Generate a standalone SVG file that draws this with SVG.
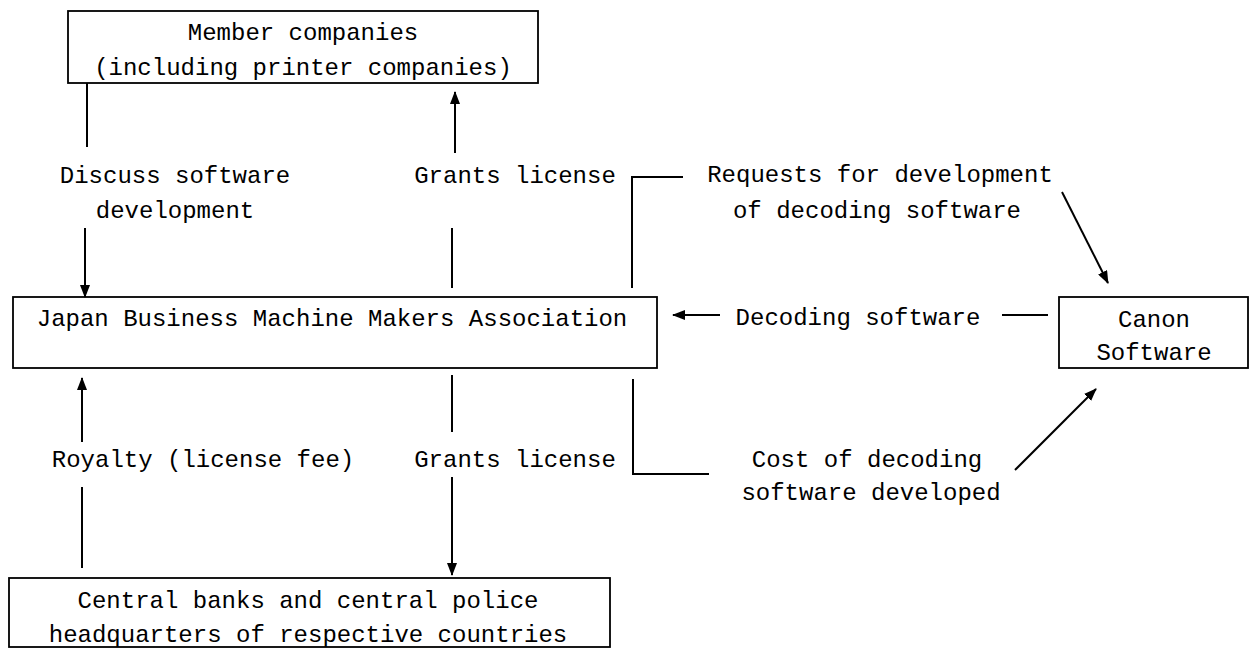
<svg xmlns="http://www.w3.org/2000/svg" width="1251" height="648" viewBox="0 0 1251 648">
<style>
.box{fill:#fff;stroke:#000;stroke-width:1.8}
.ln{fill:none;stroke:#000;stroke-width:2}
text{font-family:"Liberation Mono","Courier New",monospace;font-size:24px;fill:#000;text-anchor:middle}
</style>
<defs>
<marker id="ah" markerUnits="userSpaceOnUse" markerWidth="13" markerHeight="10" refX="12" refY="5" orient="auto">
<path d="M0,0 L13,5 L0,10 Z" fill="#000"/>
</marker>
</defs>
<rect width="1251" height="648" fill="#fff"/>
<g id="member">
<rect class="box" x="68" y="11" width="470" height="72"/>
<text x="303" y="40">Member companies</text>
<text x="303" y="75">(including printer companies)</text>
</g>
<g id="jbmma">
<rect class="box" x="13" y="297" width="644" height="71"/>
<text x="332" y="326">Japan Business Machine Makers Association</text>
</g>
<g id="canon">
<rect class="box" x="1059" y="297" width="189" height="71"/>
<text x="1154" y="327">Canon</text>
<text x="1154" y="360">Software</text>
</g>
<g id="banks">
<rect class="box" x="9" y="578" width="601" height="69"/>
<text x="308" y="608">Central banks and central police</text>
<text x="308" y="642">headquarters of respective countries</text>
</g>
<g id="connectors">
<line class="ln" x1="87" y1="83" x2="87" y2="147"/>
<line class="ln" x1="85" y1="228" x2="85" y2="297" marker-end="url(#ah)"/>
<text x="175" y="183">Discuss software</text>
<text x="175" y="218">development</text>
<line class="ln" x1="455" y1="153" x2="455" y2="92" marker-end="url(#ah)"/>
<line class="ln" x1="452" y1="228" x2="452" y2="288"/>
<text x="515" y="183">Grants license</text>
<polyline class="ln" points="683,177 632,177 632,288"/>
<text x="880" y="182">Requests for development</text>
<text x="877" y="218">of decoding software</text>
<line class="ln" x1="1062" y1="192" x2="1108" y2="283" marker-end="url(#ah)"/>
<line class="ln" x1="720" y1="315" x2="673" y2="315" marker-end="url(#ah)"/>
<text x="858" y="325">Decoding software</text>
<line class="ln" x1="1002" y1="315" x2="1048" y2="315"/>
<line class="ln" x1="82" y1="442" x2="82" y2="378" marker-end="url(#ah)"/>
<line class="ln" x1="82" y1="487" x2="82" y2="568"/>
<text x="203" y="467">Royalty (license fee)</text>
<line class="ln" x1="452" y1="375" x2="452" y2="432"/>
<line class="ln" x1="452" y1="477" x2="452" y2="575" marker-end="url(#ah)"/>
<text x="515" y="467">Grants license</text>
<polyline class="ln" points="633,379 633,474 709,474"/>
<text x="867" y="467">Cost of decoding</text>
<text x="871" y="500">software developed</text>
<line class="ln" x1="1015" y1="470" x2="1096" y2="389" marker-end="url(#ah)"/>
</g>
</svg>
